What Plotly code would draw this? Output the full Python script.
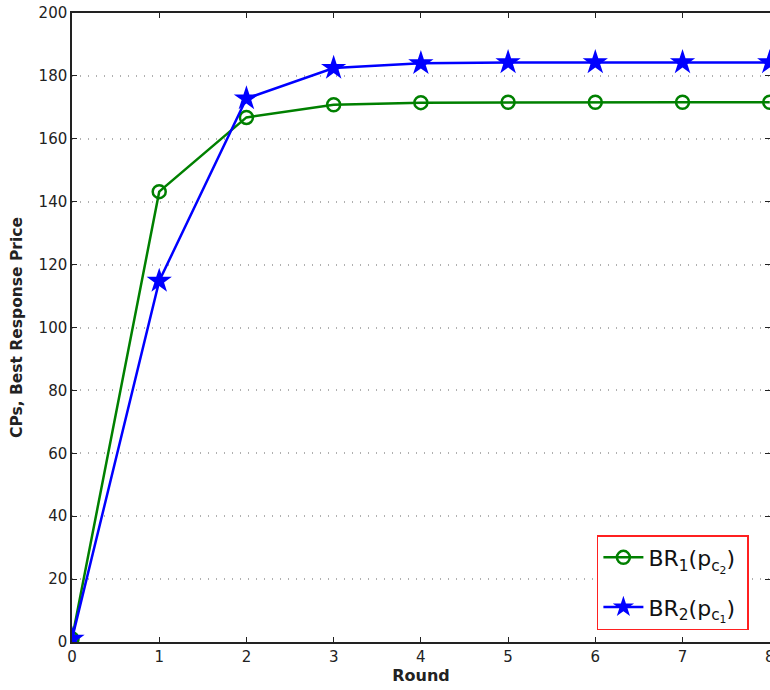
import plotly.graph_objects as go

rounds = [0, 1, 2, 3, 4, 5, 6, 7, 8]
br1 = [1.0, 143.2, 166.8, 170.8, 171.5, 171.6, 171.6, 171.6, 171.6]
br2 = [1.0, 114.8, 172.8, 182.5, 184.0, 184.3, 184.3, 184.3, 184.3]
y_ticks = [0, 20, 40, 60, 80, 100, 120, 140, 160, 180, 200]

font = "DejaVu Sans, Arial, sans-serif"

fig = go.Figure()
fig.add_trace(go.Scatter(
    x=rounds, y=br1, mode="lines+markers", legendgroup="a",
    name="BR<sub>1</sub>(p<sub>c<sub>2</sub></sub>) ",
    line=dict(color="#008000", width=2.5),
    marker=dict(symbol="circle-open", size=13, color="#008000",
                line=dict(width=2.5, color="#008000")),
))
fig.add_trace(go.Scatter(
    x=rounds, y=br2, mode="lines+markers", legendgroup="b",
    name="BR<sub>2</sub>(p<sub>c<sub>1</sub></sub>) ",
    line=dict(color="#0000ff", width=2.5),
    marker=dict(symbol="star", size=19, color="#0000ff"),
))

fig.update_layout(
    width=770, height=690,
    margin=dict(l=72, r=0, t=13, b=48),
    paper_bgcolor="white", plot_bgcolor="white",
    font=dict(family=font, size=15, color="#222"),
    showlegend=True,
    legend=dict(
        x=0.752, y=0.170, xanchor="left", yanchor="top",
        bgcolor="white", bordercolor="#ff2020", borderwidth=1.5,
        font=dict(size=22, color="#111"),
        traceorder="grouped", tracegroupgap=18,
        itemwidth=40,
    ),
    xaxis=dict(
        range=[0, 8.003], tickvals=rounds, ticks="inside", ticklen=5,
        tickcolor="#222", showline=True, linecolor="#222", linewidth=1.5,
        mirror="ticks", showgrid=False, zeroline=False, automargin=False,
        ticklabeloverflow="allow",
        title=dict(text="<b>Round</b>", standoff=2, font=dict(size=16)),
    ),
    yaxis=dict(
        range=[0, 200], tickvals=y_ticks, ticks="inside", ticklen=5,
        tickcolor="#222", showline=True, linecolor="#222", linewidth=1.5,
        mirror="ticks", showgrid=True, gridcolor="#b0b0b0",
        griddash="1px,7px", gridwidth=1.5, zeroline=False, automargin=False,
        title=dict(text="<b>CPs, Best Response Price</b>", standoff=12,
                   font=dict(size=15.5)),
    ),
)

fig.write_html("out.html")
